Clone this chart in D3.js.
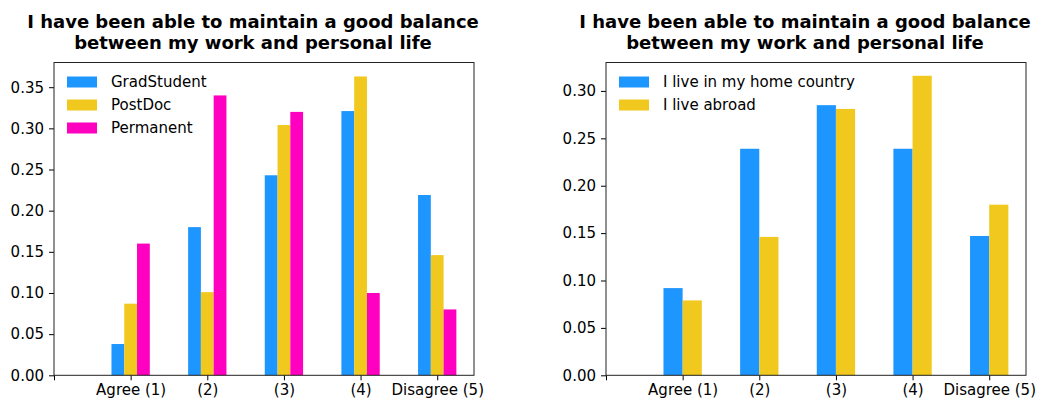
<!DOCTYPE html>
<html>
<head>
<meta charset="utf-8">
<script src="https://cdn.jsdelivr.net/npm/d3@7"></script>
<style>
  html, body { margin: 0; padding: 0; background: #fff; }
  svg { display: block; }
  text { font-family: "DejaVu Sans", sans-serif; fill: #000; }
</style>
</head>
<body>
<svg id="chart" width="1041" height="400"></svg>
<script>
// ---- data ----
const categories = ["Agree (1)", "(2)", "(3)", "(4)", "Disagree (5)"];
const titleLines = ["I have been able to maintain a good balance", "between my work and personal life"];

const leftSeriesNames = ["GradStudent", "PostDoc", "Permanent"];
const gradStudent = [0.038, 0.180, 0.243, 0.321, 0.219];
const postDoc     = [0.087, 0.101, 0.304, 0.363, 0.146];
const permanent   = [0.160, 0.340, 0.320, 0.100, 0.080];
const leftYTicks = [0.00, 0.05, 0.10, 0.15, 0.20, 0.25, 0.30, 0.35];

const rightSeriesNames = ["I live in my home country", "I live abroad"];
const homeCountry = [0.092, 0.239, 0.285, 0.239, 0.147];
const abroad      = [0.079, 0.146, 0.281, 0.316, 0.180];
const rightYTicks = [0.00, 0.05, 0.10, 0.15, 0.20, 0.25, 0.30];

const colors3 = ["#1E96FF", "#F0C81E", "#FF00C0"];
const colors2 = ["#1E96FF", "#F0C81E"];

const svg = d3.select("#chart");
const FS = "15px";

function panel(opts) {
  const { left, right, top, bottom, series, names, colors, yMax, yTicks } = opts;
  const g = svg.append("g");
  const x = d3.scaleLinear().domain([0, 5.48]).range([left, right]);
  const y = d3.scaleLinear().domain([0, yMax]).range([bottom, top]);

  const n = series.length;
  const bw = 0.5 / n;
  series.forEach((vals, si) => {
    g.selectAll(null)
      .data(vals)
      .enter().append("rect")
      .attr("x", (d, i) => x(i + 1 - 0.25 + si * bw))
      .attr("width", x(bw) - x(0))
      .attr("y", d => y(d))
      .attr("height", d => y(0) - y(d))
      .attr("fill", colors[si]);
  });

  // axes
  const xAxis = d3.axisBottom(x)
    .tickValues([0, 1, 2, 3, 4, 5])
    .tickFormat(d => d === 0 ? "" : categories[d - 1])
    .tickSize(5).tickPadding(4);
  const gx = g.append("g").attr("transform", `translate(0,${bottom})`).call(xAxis);
  gx.select(".domain").remove();
  gx.selectAll("text").style("font-size", FS).attr("fill", "#000");
  gx.selectAll("line").attr("stroke", "#000");

  const yAxis = d3.axisLeft(y)
    .tickValues(yTicks)
    .tickFormat(d3.format(".2f"))
    .tickSize(5).tickPadding(5);
  const gy = g.append("g").attr("transform", `translate(${left},0)`).call(yAxis);
  gy.select(".domain").remove();
  gy.selectAll("text").style("font-size", FS).attr("fill", "#000");
  gy.selectAll("line").attr("stroke", "#000");

  // frame
  g.append("rect")
    .attr("x", left).attr("y", top)
    .attr("width", right - left).attr("height", bottom - top)
    .attr("fill", "none").attr("stroke", "#222").attr("stroke-width", 1);

  // title
  const cx = (left + right) / 2 - 11;
  g.append("text")
    .attr("x", cx).attr("y", 28)
    .attr("text-anchor", "middle")
    .style("font-size", "18px").style("font-weight", "bold")
    .selectAll("tspan").data(titleLines).enter().append("tspan")
    .attr("x", cx).attr("dy", (d, i) => i === 0 ? 0 : 21)
    .text(d => d);

  // legend
  const lg = g.append("g");
  names.forEach((nm, i) => {
    const yy = 82 + i * 23;
    lg.append("rect").attr("x", left + 13).attr("y", yy - 5.5)
      .attr("width", 30).attr("height", 11).attr("fill", colors[i]);
    lg.append("text").attr("x", left + 57).attr("y", yy)
      .attr("dy", "0.35em").style("font-size", FS).text(nm);
  });
}

panel({
  left: 54, right: 474, top: 62.5, bottom: 375.3,
  series: [gradStudent, postDoc, permanent],
  names: leftSeriesNames, colors: colors3,
  yMax: 0.38, yTicks: leftYTicks
});

panel({
  left: 606, right: 1026, top: 62.5, bottom: 375.3,
  series: [homeCountry, abroad],
  names: rightSeriesNames, colors: colors2,
  yMax: 0.33, yTicks: rightYTicks
});
</script>
</body>
</html>
